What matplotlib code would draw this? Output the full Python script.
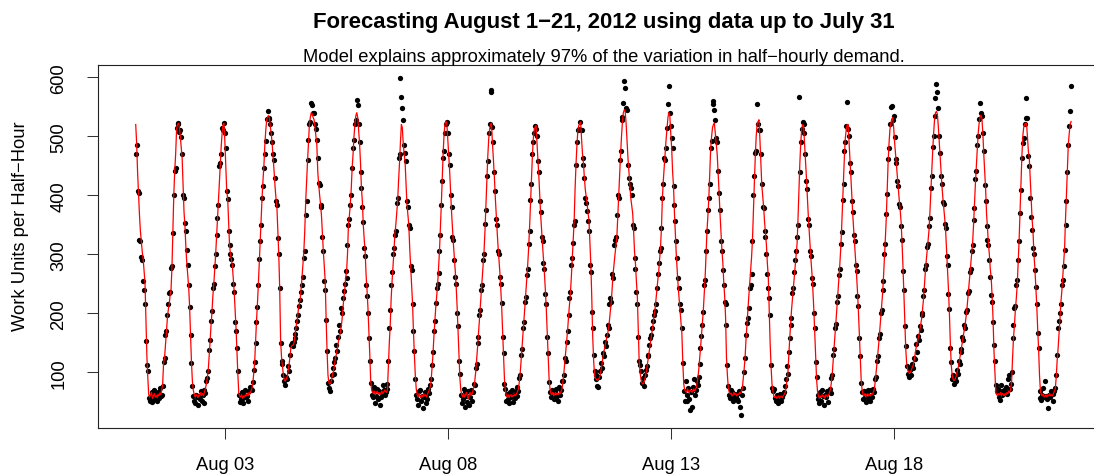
import matplotlib
matplotlib.use("Agg")
import matplotlib.pyplot as plt
import matplotlib.dates as mdates
from datetime import datetime, timedelta

plt.rcParams['font.family'] = ['Liberation Sans', 'DejaVu Sans']

# ---------------- data ----------------
title = "Forecasting August 1\u221221, 2012 using data up to July 31"
subtitle = "Model explains approximately 97% of the variation in half\u2212hourly demand."
y_label = "Work Units per Half\u2212Hour"

start_time = datetime(2012, 8, 1, 0, 0)
step_minutes = 30
x_tick_dates = [datetime(2012, 8, 3), datetime(2012, 8, 8), datetime(2012, 8, 13), datetime(2012, 8, 18)]
x_tick_labels = ["Aug 03", "Aug 08", "Aug 13", "Aug 18"]
y_ticks = [100, 200, 300, 400, 500, 600]

# model fit, one line per day (Aug 1 ... Aug 21), half-hourly
fitted_demand = [
    520, 488, 440, 405, 368, 340, 322, 305, 292, 272, 252, 190, 128, 92, 62, 58, 62, 66, 56, 60, 64, 58, 61, 57, 63, 60, 65, 62, 70, 80, 115, 124, 145, 167, 190, 205, 215, 230, 240, 277, 336, 401, 441, 470, 512, 520, 522, 515,
    500, 482, 462, 415, 372, 348, 312, 285, 265, 245, 212, 165, 118, 85, 70, 62, 58, 63, 60, 57, 62, 60, 66, 61, 64, 60, 67, 72, 80, 90, 102, 125, 150, 178, 200, 228, 248, 272, 298, 328, 355, 385, 420, 450, 482, 505, 520, 522,
    490, 450, 407, 395, 355, 316, 300, 290, 282, 260, 237, 205, 175, 135, 95, 64, 60, 58, 62, 56, 60, 58, 62, 60, 64, 60, 66, 63, 68, 72, 80, 98, 115, 150, 186, 215, 248, 285, 322, 360, 395, 425, 450, 485, 510, 528, 533, 535,
    530, 515, 503, 485, 463, 440, 415, 395, 380, 340, 300, 243, 153, 125, 110, 95, 87, 85, 88, 92, 102, 112, 125, 141, 145, 146, 147, 155, 170, 181, 190, 205, 215, 222, 240, 260, 282, 305, 340, 390, 425, 458, 490, 520, 532, 540, 538, 532,
    528, 515, 500, 485, 440, 418, 400, 385, 365, 335, 305, 280, 255, 190, 136, 95, 82, 80, 82, 88, 98, 102, 112, 125, 130, 140, 150, 158, 165, 175, 187, 205, 225, 238, 260, 271, 300, 350, 365, 384, 410, 446, 470, 500, 520, 535, 540, 532,
    510, 488, 455, 412, 390, 350, 325, 305, 265, 240, 210, 170, 130, 85, 70, 66, 64, 68, 62, 65, 68, 63, 66, 62, 65, 68, 64, 66, 70, 68, 66, 70, 110, 150, 180, 225, 255, 280, 305, 333, 350, 370, 390, 425, 455, 490, 520, 515,
    488, 470, 456, 420, 385, 368, 350, 310, 280, 250, 218, 170, 130, 95, 72, 62, 58, 64, 60, 57, 62, 58, 64, 60, 62, 58, 63, 66, 70, 75, 85, 108, 130, 160, 185, 210, 228, 248, 275, 305, 345, 384, 430, 472, 505, 520, 526, 520,
    495, 468, 440, 405, 372, 345, 318, 295, 272, 245, 212, 172, 128, 90, 70, 62, 58, 64, 58, 62, 66, 60, 55, 62, 66, 60, 63, 68, 75, 85, 100, 120, 142, 165, 188, 210, 232, 255, 278, 305, 340, 382, 425, 465, 495, 512, 520, 522,
    490, 462, 435, 400, 370, 342, 315, 292, 270, 242, 210, 170, 126, 88, 68, 60, 58, 62, 57, 60, 62, 58, 61, 60, 63, 60, 64, 67, 72, 84, 100, 122, 145, 168, 190, 212, 235, 258, 282, 310, 345, 385, 428, 465, 495, 510, 516, 518,
    490, 462, 432, 398, 366, 340, 315, 292, 268, 240, 208, 168, 125, 90, 72, 64, 62, 66, 60, 63, 66, 62, 64, 62, 66, 64, 68, 72, 85, 100, 118, 135, 152, 172, 195, 215, 235, 262, 294, 325, 356, 410, 452, 485, 510, 518, 522, 524,
    495, 470, 455, 430, 410, 398, 385, 370, 356, 320, 282, 225, 160, 120, 95, 90, 88, 86, 88, 90, 95, 105, 113, 125, 135, 142, 150, 158, 164, 175, 188, 205, 220, 245, 268, 285, 300, 315, 330, 365, 400, 435, 470, 500, 525, 540, 545, 542,
    520, 490, 462, 440, 418, 395, 382, 370, 340, 305, 285, 255, 230, 175, 119, 100, 88, 82, 80, 82, 88, 95, 104, 115, 125, 136, 148, 160, 170, 182, 195, 205, 222, 240, 255, 270, 290, 312, 345, 395, 425, 448, 470, 495, 514, 532, 540, 535,
    505, 480, 440, 415, 370, 335, 298, 270, 245, 225, 205, 185, 165, 116, 80, 70, 68, 66, 72, 68, 65, 70, 68, 66, 70, 72, 68, 72, 78, 88, 102, 120, 140, 162, 182, 203, 230, 260, 300, 339, 365, 395, 440, 480, 500, 515, 520, 522,
    505, 490, 470, 440, 407, 370, 339, 310, 288, 255, 230, 195, 125, 95, 73, 66, 63, 65, 60, 62, 66, 62, 64, 60, 63, 62, 66, 64, 68, 72, 88, 105, 124, 155, 180, 205, 228, 250, 271, 295, 325, 375, 420, 465, 500, 520, 525, 528,
    495, 455, 418, 400, 380, 355, 335, 316, 285, 262, 203, 150, 110, 80, 68, 60, 57, 60, 56, 58, 60, 56, 58, 60, 57, 60, 62, 65, 72, 85, 95, 125, 155, 180, 205, 225, 243, 262, 280, 298, 318, 360, 410, 455, 490, 512, 520, 518,
    490, 462, 432, 400, 368, 340, 315, 290, 268, 240, 208, 168, 125, 88, 68, 60, 56, 60, 58, 62, 58, 60, 56, 62, 60, 58, 62, 66, 72, 84, 100, 122, 145, 168, 190, 212, 235, 258, 282, 310, 345, 385, 428, 468, 498, 512, 520, 520,
    490, 462, 432, 398, 366, 340, 315, 290, 266, 238, 205, 165, 122, 88, 70, 62, 60, 64, 58, 62, 64, 60, 63, 60, 64, 62, 66, 70, 82, 98, 115, 132, 150, 170, 192, 212, 232, 260, 292, 325, 360, 410, 455, 488, 512, 522, 528, 532,
    515, 490, 470, 450, 430, 410, 392, 375, 355, 320, 280, 235, 185, 140, 115, 105, 100, 98, 100, 104, 108, 112, 120, 130, 140, 148, 155, 162, 170, 180, 190, 205, 222, 245, 268, 288, 305, 322, 340, 370, 405, 440, 475, 505, 528, 540, 542, 538,
    518, 492, 465, 440, 415, 395, 378, 360, 338, 305, 275, 240, 200, 150, 112, 95, 88, 86, 88, 92, 98, 105, 112, 122, 132, 142, 152, 162, 172, 182, 195, 210, 228, 245, 262, 280, 298, 320, 350, 385, 420, 450, 478, 505, 522, 532, 536, 530,
    505, 470, 440, 410, 368, 345, 318, 300, 275, 260, 228, 190, 135, 100, 65, 62, 60, 64, 62, 66, 60, 64, 62, 60, 64, 62, 66, 64, 68, 66, 72, 85, 125, 158, 180, 205, 225, 248, 285, 322, 370, 420, 465, 500, 515, 520, 522, 522,
    500, 475, 463, 430, 395, 360, 339, 300, 277, 245, 215, 175, 141, 95, 68, 62, 60, 64, 58, 60, 62, 58, 62, 60, 64, 60, 62, 60, 64, 68, 72, 92, 120, 140, 165, 190, 218, 237, 260, 285, 310, 360, 400, 445, 486, 505, 520, 525,
]

# observed half-hourly demand, one line per day (Aug 1 ... Aug 21)
observed_demand = [
    470, 486, 408, 404, 325, 322, 295, 290, 254, 240, 215, 153, 113, 102, 56, 52, 60, 66, 50, 58, 70, 55, 64, 52, 66, 57, 74, 60, 62, 77, 118, 124, 164, 170, 198, 215, 234, 236, 277, 280, 336, 401, 441, 446, 514, 520, 522, 508,
    510, 498, 470, 401, 395, 353, 339, 308, 282, 248, 210, 164, 116, 77, 60, 52, 48, 62, 58, 45, 60, 55, 68, 52, 62, 48, 70, 65, 85, 90, 102, 138, 155, 187, 204, 243, 250, 280, 300, 333, 362, 384, 449, 455, 470, 514, 511, 522,
    505, 480, 407, 393, 340, 316, 300, 292, 282, 250, 237, 186, 170, 141, 102, 62, 50, 55, 66, 48, 56, 62, 70, 58, 60, 52, 68, 75, 72, 70, 84, 104, 118, 150, 186, 210, 248, 292, 322, 350, 395, 415, 446, 470, 492, 530, 543, 530,
    531, 520, 505, 490, 470, 460, 430, 390, 384, 327, 300, 243, 150, 120, 114, 96, 85, 79, 92, 88, 110, 102, 130, 147, 150, 145, 152, 158, 165, 175, 187, 198, 212, 223, 237, 248, 262, 294, 305, 367, 390, 460, 494, 520, 525, 556, 553, 540,
    540, 520, 513, 494, 463, 421, 418, 384, 380, 330, 305, 254, 240, 189, 136, 82, 74, 68, 85, 95, 107, 98, 118, 124, 147, 136, 160, 181, 170, 209, 200, 226, 238, 250, 271, 260, 316, 350, 360, 384, 400, 446, 480, 494, 520, 528, 562, 553,
    520, 491, 440, 412, 380, 355, 311, 298, 248, 230, 200, 158, 120, 82, 62, 58, 70, 75, 48, 60, 72, 55, 68, 45, 58, 65, 78, 70, 62, 66, 72, 80, 120, 175, 205, 248, 270, 300, 310, 333, 340, 387, 395, 463, 470, 598, 567, 548,
    528, 486, 472, 458, 390, 380, 350, 345, 280, 274, 215, 170, 136, 88, 62, 55, 45, 68, 70, 52, 60, 40, 58, 66, 48, 62, 55, 72, 65, 79, 88, 113, 135, 170, 187, 218, 243, 250, 268, 305, 333, 384, 425, 463, 475, 505, 520, 525,
    505, 470, 452, 400, 380, 330, 325, 290, 262, 250, 200, 178, 120, 98, 62, 48, 55, 72, 42, 66, 60, 50, 68, 45, 58, 70, 52, 66, 80, 78, 108, 115, 150, 160, 198, 205, 240, 248, 290, 300, 352, 375, 432, 458, 505, 520, 578, 575,
    515, 490, 440, 408, 360, 350, 305, 300, 262, 250, 218, 160, 132, 80, 72, 52, 64, 55, 48, 66, 58, 70, 50, 62, 56, 68, 60, 75, 68, 90, 96, 130, 140, 175, 185, 220, 228, 265, 275, 318, 340, 392, 420, 470, 490, 505, 517, 512,
    500, 458, 440, 390, 372, 330, 322, 285, 275, 232, 215, 160, 132, 84, 66, 58, 70, 60, 55, 68, 58, 72, 60, 51, 75, 62, 70, 85, 85, 96, 124, 120, 152, 170, 198, 226, 236, 282, 294, 320, 350, 356, 452, 490, 511, 512, 525, 511,
    511, 452, 463, 430, 395, 387, 373, 356, 340, 282, 270, 203, 175, 130, 102, 96, 88, 77, 75, 92, 102, 116, 108, 133, 128, 152, 145, 164, 181, 175, 215, 226, 220, 266, 260, 316, 325, 330, 367, 401, 395, 460, 475, 528, 533, 556, 593, 582,
    548, 545, 452, 429, 420, 412, 400, 350, 345, 294, 275, 237, 215, 160, 119, 112, 102, 82, 90, 77, 96, 104, 110, 130, 128, 147, 158, 164, 175, 187, 198, 204, 215, 243, 266, 285, 305, 311, 345, 395, 420, 463, 460, 480, 514, 554, 585, 540,
    517, 497, 480, 415, 384, 356, 322, 294, 260, 243, 215, 206, 175, 116, 68, 51, 85, 62, 51, 73, 55, 37, 66, 42, 75, 88, 62, 70, 85, 78, 92, 115, 141, 161, 180, 203, 248, 256, 305, 339, 375, 395, 420, 480, 492, 554, 559, 545,
    528, 497, 490, 441, 404, 375, 322, 305, 274, 248, 220, 215, 180, 113, 77, 62, 56, 70, 66, 51, 58, 64, 60, 55, 51, 65, 68, 42, 28, 62, 74, 100, 124, 164, 184, 192, 209, 243, 248, 266, 322, 401, 432, 472, 475, 554, 520, 511,
    510, 470, 420, 381, 378, 339, 330, 300, 266, 243, 226, 198, 113, 73, 68, 72, 56, 51, 62, 48, 60, 55, 64, 52, 58, 64, 66, 77, 88, 111, 98, 135, 158, 181, 192, 234, 243, 270, 290, 305, 330, 350, 566, 440, 490, 512, 525, 520,
    505, 470, 425, 410, 360, 350, 305, 298, 260, 250, 200, 175, 118, 92, 62, 55, 48, 66, 52, 70, 60, 45, 62, 58, 68, 50, 66, 72, 65, 90, 95, 130, 140, 175, 182, 220, 230, 265, 275, 318, 338, 392, 420, 475, 490, 518, 558, 512,
    500, 455, 440, 390, 372, 332, 322, 282, 272, 230, 212, 158, 128, 82, 66, 55, 68, 58, 50, 66, 70, 55, 60, 52, 70, 58, 72, 66, 88, 92, 120, 128, 158, 165, 200, 205, 240, 255, 300, 318, 368, 402, 462, 480, 520, 550, 552, 528,
    535, 498, 462, 455, 425, 415, 385, 380, 348, 325, 272, 240, 178, 145, 110, 98, 108, 92, 104, 96, 115, 108, 125, 122, 148, 135, 162, 155, 178, 172, 198, 200, 230, 240, 275, 282, 312, 318, 348, 362, 412, 432, 482, 500, 535, 565, 588, 575,
    548, 500, 472, 432, 420, 388, 385, 352, 345, 298, 282, 232, 208, 142, 118, 88, 95, 80, 92, 86, 104, 98, 120, 115, 140, 135, 160, 155, 180, 176, 202, 205, 235, 238, 270, 275, 305, 315, 358, 378, 428, 442, 485, 500, 530, 557, 540, 535,
    505, 475, 418, 390, 348, 325, 316, 290, 262, 231, 220, 185, 147, 119, 79, 68, 72, 59, 68, 54, 79, 62, 64, 70, 68, 75, 64, 88, 96, 72, 80, 100, 158, 181, 209, 212, 248, 256, 290, 322, 370, 409, 463, 489, 497, 520, 565, 531,
    531, 466, 449, 395, 364, 342, 311, 300, 274, 245, 215, 167, 141, 68, 56, 54, 62, 73, 58, 85, 60, 55, 39, 62, 58, 68, 66, 52, 64, 68, 74, 96, 130, 175, 187, 200, 215, 248, 256, 280, 308, 350, 390, 440, 486, 517, 543, 586,
]

if len(fitted_demand) != len(observed_demand):
    raise SystemExit(f"length mismatch: fitted {len(fitted_demand)} observed {len(observed_demand)}")

# ---------------- plot ----------------
n = len(observed_demand)
times = [start_time + timedelta(minutes=step_minutes * i) for i in range(n)]
xnum = mdates.date2num(times)

W, H = 1094, 477
fig = plt.figure(figsize=(W / 100, H / 100), dpi=100)
ax_left, ax_right, ax_top, ax_bottom = 98.3, 1108.5, 66.0, 429.3
ax = fig.add_axes([ax_left / W, 1 - ax_bottom / H, (ax_right - ax_left) / W, (ax_bottom - ax_top) / H])

ax.plot(xnum, observed_demand, linestyle='none', marker='o', color='black',
        markersize=3.8, markeredgewidth=0, zorder=2)
ax.plot(xnum, fitted_demand, color='#FF0000', linewidth=0.9, zorder=3)

# R-style 4% axis padding
x0, x1 = xnum[0], xnum[-1]
xr = x1 - x0
ax.set_xlim(x0 - 0.04 * xr, x1 + 0.04 * xr)
allv = fitted_demand + observed_demand
y0, y1 = min(allv), max(allv)
yr = y1 - y0
ax.set_ylim(y0 - 0.04 * yr, y1 + 0.04 * yr)

ax.set_xticks(mdates.date2num(x_tick_dates))
ax.set_xticklabels(x_tick_labels)
ax.set_yticks(y_ticks)
ax.set_yticklabels([str(v) for v in y_ticks], rotation=90, va='center')

ax.tick_params(axis='both', direction='out', length=7.6, width=0.75, color='#333333',
               labelsize=13.25, labelcolor='black')
ax.tick_params(axis='x', pad=12.5)
ax.tick_params(axis='y', pad=14.5)
for s in ax.spines.values():
    s.set_linewidth(0.8)
    s.set_color('#222222')
ax.spines['right'].set_visible(False)

fig.text((ax_left + ax_right) / 2 / W, 1 - 28.0 / H, title, ha='center', va='baseline',
         fontsize=15.9, fontweight='bold')
fig.text((ax_left + ax_right) / 2 / W, 1 - 62.0 / H, subtitle, ha='center', va='baseline',
         fontsize=13.25)
fig.text(21.0 / W, 1 - 226.0 / H, y_label, ha='center', va='center', rotation=90,
         fontsize=13.25)

fig.savefig('out.png', dpi=100)
